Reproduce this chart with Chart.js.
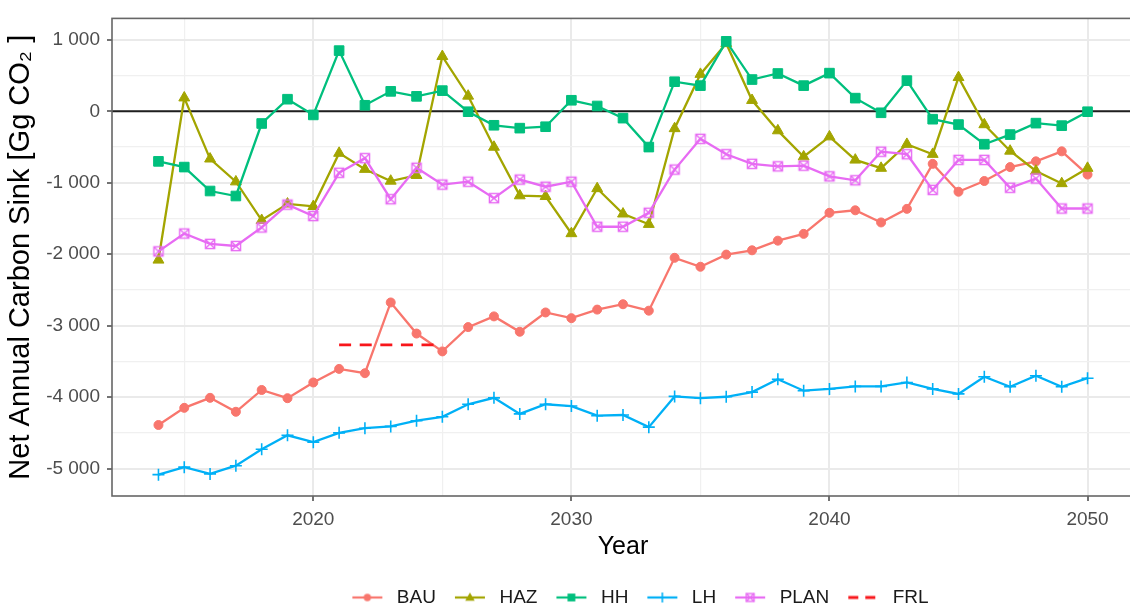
<!DOCTYPE html>
<html>
<head>
<meta charset="utf-8">
<title>Net Annual Carbon Sink</title>
<script src="https://cdn.jsdelivr.net/npm/chart.js@4.4.1/dist/chart.umd.min.js"></script>
<style>
  html, body { margin: 0; padding: 0; background: #ffffff; overflow: hidden; width: 1130px; height: 611px; }
  #wrap { position: absolute; left: 0; top: 0; width: 1280px; height: 617px; }
</style>
</head>
<body>
<div id="wrap"><canvas id="chart" width="1280" height="617"></canvas></div>
<script>
// ---- data (Gg CO2 per year) ----
const years = [2014, 2015, 2016, 2017, 2018, 2019, 2020, 2021, 2022, 2023, 2024, 2025, 2026,
               2027, 2028, 2029, 2030, 2031, 2032, 2033, 2034, 2035, 2036, 2037, 2038, 2039,
               2040, 2041, 2042, 2043, 2044, 2045, 2046, 2047, 2048, 2049, 2050];

const bau  = [-4390, -4150, -4010, -4205, -3900, -4015, -3795, -3605, -3665, -2675, -3110, -3360, -3020,
              -2870, -3085, -2815, -2895, -2775, -2700, -2790, -2050, -2175, -2005, -1945, -1810, -1715,
              -1420, -1385, -1555, -1365, -735, -1125, -975, -780, -700, -560, -885];

const haz  = [-2080, 190, -665, -985, -1525, -1295, -1330, -585, -810, -975, -895, 770, 215,
              -500, -1180, -1190, -1710, -1080, -1435, -1580, -240, 520, 950, 155, -270, -635,
              -355, -680, -795, -460, -600, 475, -185, -555, -835, -1010, -795];

const hh   = [-700, -780, -1115, -1185, -170, 170, -50, 850, 85, 280, 210, 290, -5,
              -195, -235, -215, 155, 75, -95, -500, 415, 360, 980, 445, 530, 360,
              535, 185, -20, 430, -110, -185, -460, -325, -165, -200, -5];

const lh   = [-5085, -4980, -5075, -4960, -4730, -4535, -4630, -4500, -4435, -4410, -4330, -4275, -4100,
              -4010, -4235, -4100, -4125, -4260, -4250, -4420, -3990, -4015, -3995, -3930, -3750, -3910,
              -3885, -3850, -3850, -3795, -3885, -3955, -3715, -3855, -3700, -3855, -3735];

const plan = [-1960, -1710, -1855, -1885, -1625, -1305, -1465, -860, -655, -1230, -790, -1025, -985,
              -1215, -955, -1055, -985, -1615, -1615, -1420, -815, -385, -600, -735, -770, -760,
              -910, -965, -565, -600, -1100, -680, -680, -1070, -940, -1360, -1360];

// forest reference level over its compliance period
const frlYears  = [2021, 2025];
const frlValues = [-3270, -3270];

// ---- axes ----
const xLabelYears = [2020, 2030, 2040, 2050];
const xGridYears  = [2015, 2020, 2025, 2030, 2035, 2040, 2045, 2050];
const yLabelValues = [-5000, -4000, -3000, -2000, -1000, 0, 1000];
const yGridValues  = [-5000, -4500, -4000, -3500, -3000, -2500, -2000, -1500, -1000, -500, 0, 500, 1000];

const seriesNames = ['BAU', 'HAZ', 'HH', 'LH', 'PLAN', 'FRL'];
const colors = {
  BAU: '#F8766D', HAZ: '#A3A500', HH: '#00BF7D', LH: '#00B0F6', PLAN: '#E76BF3', FRL: '#F8161B'
};

Chart.defaults.font.family = "'Liberation Sans', Arial, Helvetica, sans-serif";

// ---- marker helpers ----
function drawMarker(ctx, kind, cx, cy, color, scale) {
  const k = scale || 1;
  ctx.save();
  ctx.fillStyle = color;
  ctx.strokeStyle = color;
  if (kind === 'circle') {
    ctx.beginPath(); ctx.arc(cx, cy, 4.3 * k, 0, Math.PI * 2); ctx.fill();
  } else if (kind === 'triangle') {
    ctx.beginPath();
    ctx.moveTo(cx, cy - 6 * k); ctx.lineTo(cx + 5.6 * k, cy + 3.8 * k); ctx.lineTo(cx - 5.6 * k, cy + 3.8 * k);
    ctx.closePath(); ctx.fill();
  } else if (kind === 'square') {
    ctx.fillRect(cx - 4.6 * k, cy - 4.6 * k, 9.2 * k, 9.2 * k);
  } else if (kind === 'plus') {
    ctx.lineWidth = 1.6;
    ctx.beginPath();
    ctx.moveTo(cx - 6 * k, cy); ctx.lineTo(cx + 6 * k, cy);
    ctx.moveTo(cx, cy - 6 * k); ctx.lineTo(cx, cy + 6 * k);
    ctx.stroke();
  } else if (kind === 'boxx') {
    const h = 4.6 * k;
    ctx.lineWidth = 1.4;
    ctx.strokeRect(cx - h, cy - h, 2 * h, 2 * h);
    ctx.beginPath();
    ctx.moveTo(cx - h, cy - h); ctx.lineTo(cx + h, cy + h);
    ctx.moveTo(cx + h, cy - h); ctx.lineTo(cx - h, cy + h);
    ctx.stroke();
  }
  ctx.restore();
}

function markerCanvas(kind, color) {
  const c = document.createElement('canvas');
  c.width = 14; c.height = 14;
  drawMarker(c.getContext('2d'), kind, 7, 7, color, 1);
  return c;
}

// legend key: a short line with the series marker
function keyCanvas(kind, color, dashed) {
  const c = document.createElement('canvas');
  c.width = 36; c.height = 20;
  const g = c.getContext('2d');
  g.strokeStyle = color;
  g.lineWidth = dashed ? 2.8 : 2.2;
  if (dashed) g.setLineDash([10, 7]);
  g.beginPath(); g.moveTo(1, 10); g.lineTo(31, 10); g.stroke();
  g.setLineDash([]);
  if (kind) drawMarker(g, kind, 16, 10, color, 0.85);
  return c;
}

const markerKinds = ['circle', 'triangle', 'square', 'plus', 'boxx', null];
const keyImages = seriesNames.map((n, i) => keyCanvas(markerKinds[i], colors[n], n === 'FRL'));

function pts(xs, ys) { return xs.map((x, i) => ({ x: x, y: ys[i] })); }

function lineSet(label, values, style, radius, order, extra) {
  return Object.assign({
    label: label,
    data: pts(years, values),
    borderColor: colors[label],
    backgroundColor: colors[label],
    pointBackgroundColor: colors[label],
    pointBorderColor: colors[label],
    borderWidth: 2.3,
    pointStyle: style,
    pointRadius: radius,
    pointBorderWidth: 1,
    tension: 0,
    order: order
  }, extra || {});
}

const datasets = [
  lineSet('BAU', bau, 'circle', 4.5, 5),
  lineSet('HAZ', haz, 'triangle', 6.3, 4),
  lineSet('HH', hh, 'rect', 6.8, 3),
  lineSet('LH', lh, 'cross', 6, 2, { pointBorderWidth: 1.6 }),
  lineSet('PLAN', plan, markerCanvas('boxx', colors.PLAN), 5, 1),
  {
    label: 'FRL',
    data: pts(frlYears, frlValues),
    borderColor: colors.FRL,
    backgroundColor: colors.FRL,
    borderWidth: 2.8,
    borderDash: [12, 8.6],
    pointRadius: 0,
    tension: 0,
    order: 0
  }
];

// zero reference line and panel frame
const panelPlugin = {
  id: 'panel',
  beforeDatasetsDraw(chart) {
    const { ctx, chartArea: a, scales: { y } } = chart;
    const py = y.getPixelForValue(0);
    ctx.save();
    ctx.strokeStyle = '#1f1f1f';
    ctx.lineWidth = 2;
    ctx.beginPath(); ctx.moveTo(a.left, py); ctx.lineTo(a.right, py); ctx.stroke();
    ctx.restore();
  },
  afterDatasetsDraw(chart) {
    const { ctx, chartArea: a } = chart;
    ctx.save();
    ctx.strokeStyle = '#666666';
    ctx.lineWidth = 1.6;
    ctx.strokeRect(a.left, a.top, a.right - a.left, a.bottom - a.top);
    ctx.restore();
  }
};

function thousands(v) {
  const s = Math.abs(v).toString().replace(/\B(?=(\d{3})+(?!\d))/g, ' ');
  return (v < 0 ? '-' : '') + s;
}

const isMajorX = c => c.tick && xLabelYears.includes(c.tick.value);
const isMajorY = c => c.tick && yLabelValues.includes(c.tick.value);

new Chart(document.getElementById('chart'), {
  type: 'line',
  data: { datasets: datasets },
  plugins: [panelPlugin],
  options: {
    responsive: false,
    devicePixelRatio: 1,
    animation: false,
    layout: { padding: { top: 8, left: 0, right: 0, bottom: 0 } },
    plugins: {
      tooltip: { enabled: false },
      legend: {
        position: 'bottom',
        labels: {
          usePointStyle: true,
          pointStyleWidth: 36,
          padding: 18,
          color: '#1a1a1a',
          font: { size: 19 },
          sort: (a, b) => a.datasetIndex - b.datasetIndex,
          generateLabels(chart) {
            const items = Chart.defaults.plugins.legend.labels.generateLabels(chart);
            items.forEach(it => { it.pointStyle = keyImages[it.datasetIndex]; });
            return items;
          }
        }
      }
    },
    scales: {
      x: {
        type: 'linear',
        min: 2012.2,
        max: 2051.8,
        afterFit(s) { s.height = s.chart.height - s.chart.legend.height - 496; },
        afterBuildTicks(s) { s.ticks = xGridYears.map(v => ({ value: v })); },
        border: { display: false },
        grid: {
          color: c => isMajorX(c) ? '#EAEAEA' : '#F0F0F0',
          lineWidth: c => isMajorX(c) ? 2 : 1.2,
          tickColor: c => isMajorX(c) ? '#444444' : 'rgba(0,0,0,0)',
          tickLength: 5,
          tickWidth: 1.5
        },
        ticks: {
          autoSkip: false,
          maxRotation: 0,
          padding: 7,
          color: '#4D4D4D',
          font: { size: 19 },
          callback: v => xLabelYears.includes(v) ? String(v) : ''
        },
        title: {
          display: true,
          text: 'Year',
          color: '#000000',
          font: { size: 25 },
          padding: { top: 0, bottom: 8 }
        }
      },
      y: {
        type: 'linear',
        min: -5384,
        max: 1301,
        afterFit(s) { s.width = 112; },
        afterBuildTicks(s) { s.ticks = yGridValues.map(v => ({ value: v })); },
        border: { display: false },
        grid: {
          color: c => isMajorY(c) ? '#EAEAEA' : '#F0F0F0',
          lineWidth: c => isMajorY(c) ? 2 : 1.2,
          tickColor: c => isMajorY(c) ? '#444444' : 'rgba(0,0,0,0)',
          tickLength: 5,
          tickWidth: 1.5
        },
        ticks: {
          autoSkip: false,
          padding: 7,
          color: '#4D4D4D',
          font: { size: 19 },
          callback: v => yLabelValues.includes(v) ? thousands(v) : ''
        },
        title: {
          display: true,
          text: 'Net Annual Carbon Sink [Gg CO\u2082 ]',
          color: '#000000',
          font: { size: 29 },
          padding: { top: 4, bottom: 0 }
        }
      },
      spacer: {
        type: 'linear',
        position: 'right',
        display: true,
        afterFit(s) { s.width = 146; },
        border: { display: false },
        grid: { display: false },
        ticks: { display: false }
      }
    }
  }
});
</script>
</body>
</html>
